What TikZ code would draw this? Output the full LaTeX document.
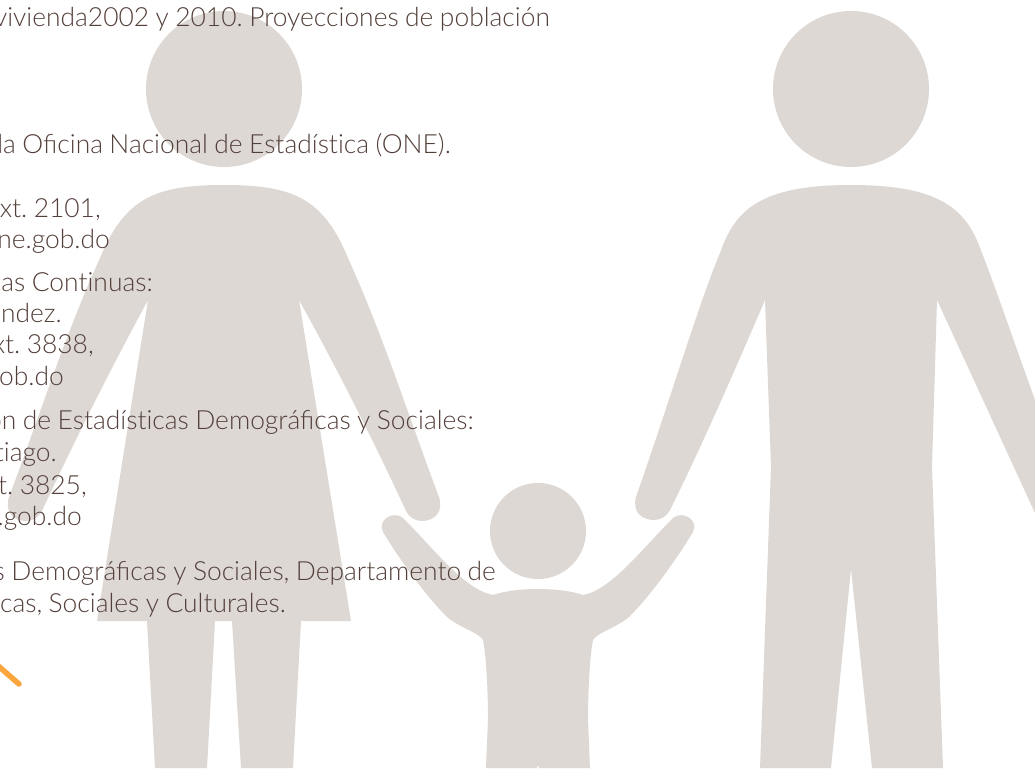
\documentclass[tikz,border=0pt]{standalone}
\usepackage{fontspec}
\setmainfont[WordSpace=0.9]{Lato Light}
\definecolor{sil}{HTML}{DDD8D4}
\definecolor{txt}{HTML}{54403A}
\definecolor{org}{HTML}{FBA63C}
\newcommand\nolig{\kern0pt }
\tikzset{sil/.style={fill=sil,draw=none},
 tl/.style={anchor=base east,text=txt,inner sep=0pt,font=\fontsize{26.4}{27}\selectfont\frenchspacing}}
\begin{document}
\begin{tikzpicture}[x=1pt,y=-1pt]
\useasboundingbox (0,0) rectangle (1035,768);
\clip (0,0) rectangle (1035,768);
\fill[white] (0,0) rectangle (1035,768);
% woman
\fill[sil] (224,89) circle[radius=78];
\fill[sil] (224,185) .. controls (155,185) and (125,198) .. (100,258)
 .. controls (65,335) and (40,415) .. (9,497)
 .. controls (4,512) and (14,521) .. (26,521) .. controls (33,521) and (39,517) .. (42,511)
 .. controls (70,450) and (110,370) .. (148,300)
 -- (97,621) -- (147,621) -- (155,768) -- (207,768) -- (215,621) -- (232,621) -- (241,768) -- (293,768) -- (301,621) -- (351,621)
 -- (299,300) .. controls (338,370) and (378,450) .. (406,511)
 .. controls (409,517) and (415,521) .. (422,521) .. controls (434,521) and (444,512) .. (439,497)
 .. controls (408,415) and (383,335) .. (348,258)
 .. controls (323,198) and (293,185) .. (224,185) -- cycle;
% man
\fill[sil] (851,89) circle[radius=78];
\fill[sil] (851,185) .. controls (760,185) and (735,210) .. (720,253)
 .. controls (700,300) and (670,400) .. (636,497)
 .. controls (632,512) and (642,520) .. (654,520) .. controls (661,520) and (667,516) .. (670,510)
 .. controls (700,450) and (735,370) .. (765,300)
 -- (771,467) -- (760,768) -- (831,768) -- (851,569) -- (872,768) -- (943,768) -- (932,467) -- (937,300)
 -- (1035,513) -- (1035,400) .. controls (1015,345) and (1000,300) .. (982,253)
 .. controls (967,210) and (942,185) .. (851,185) -- cycle;
% child
\fill[sil] (538,531) circle[radius=48];
\fill[sil] (538,589) .. controls (520,589) and (505,591) .. (493,595)
 .. controls (465,590) and (435,550) .. (403,518)
 .. controls (393,510) and (377,520) .. (383,532)
 .. controls (400,560) and (425,595) .. (447,617)
 .. controls (460,628) and (478,632) .. (483,640)
 .. controls (487,660) and (488,700) .. (488,720)
 -- (486,768) -- (537,768) -- (538,765) -- (539,768) -- (590,768) -- (588,720)
 .. controls (588,700) and (589,660) .. (593,640)
 .. controls (598,632) and (616,628) .. (629,617)
 .. controls (651,595) and (676,560) .. (693,532)
 .. controls (699,520) and (683,510) .. (673,518)
 .. controls (641,550) and (611,590) .. (583,595)
 .. controls (571,591) and (556,589) .. (538,589) -- cycle;
% orange
\coordinate (o1) at (-4,664);
\coordinate (o2) at (19,684);
\draw[org,line width=5.5pt,line cap=round] (o1) -- (o2);
% text
\node[tl] (t1) at (550,27) {vivienda2002 y 2010. Proyecciones de población};
\node[tl] (t2) at (451,153) {la Oficina Nacional de Estadíst\nolig ica (ONE).};
\node[tl] (t3) at (101,217) {ext. 2101,};
\node[tl] (t4) at (110,248) {ne.gob.do};
\node[tl] (t5) at (153,291) {cas Cont\nolig inuas:};
\node[tl] (t6) at (62,322) {ndez.};
\node[tl] (t7) at (94,353) {ext. 3838,};
\node[tl] (t8) at (64,385) {gob.do};
\node[tl] (t9) at (474,429) {ón de Estadíst\nolig icas Demográficas y Sociales:};
\node[tl] (t10) at (57,461) {t\nolig iago.};
\node[tl] (t11) at (87,494) {xt. 3825,};
\node[tl] (t12) at (82,525) {e.gob.do};
\node[tl] (t13) at (496,580) {s Demográficas y Sociales, Departamento de};
\node[tl] (t14) at (286,612) {ucas, Sociales y Culturales.};
\end{tikzpicture}
\end{document}
